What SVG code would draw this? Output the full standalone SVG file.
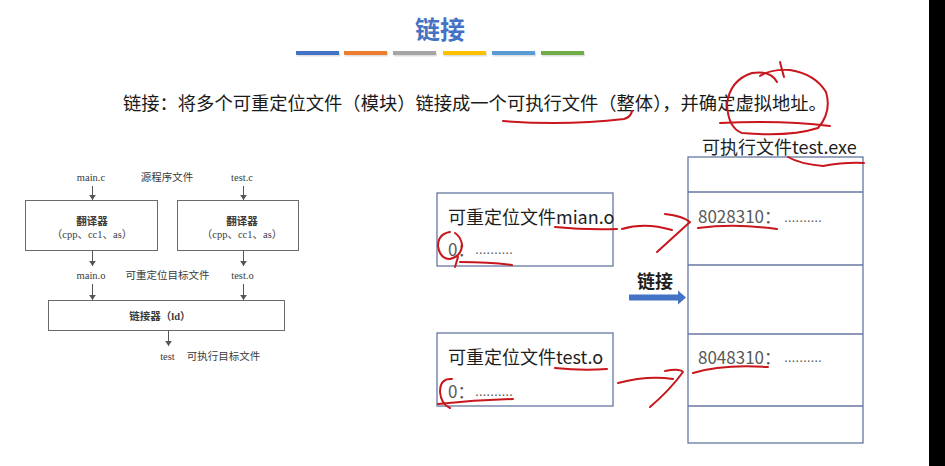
<svg xmlns="http://www.w3.org/2000/svg" width="945" height="466" viewBox="0 0 945 466">
<defs>
<style>
.title{font-family:"Noto Sans CJK SC",sans-serif;font-size:25px;font-weight:bold;fill:#4472C4}
.lead{font-family:"Noto Sans CJK SC",sans-serif;font-size:18.3px;fill:#1a1a1a}
.fig{font-family:"Liberation Serif","Noto Sans CJK SC",serif;font-size:10.5px;fill:#3a3a3a}
.figb{font-weight:bold}
.box{fill:#fff;stroke:#6a6a6a;stroke-width:1}
.wire{stroke:#555;stroke-width:1;fill:none;marker-end:url(#tip)}
.obj{fill:#fff;stroke:#6677a0;stroke-width:1.3}
.lbl{font-family:"Noto Sans CJK SC",sans-serif;font-size:18px;fill:#1e1e1e}
.addr{font-family:"Noto Sans CJK SC",sans-serif;font-size:17px;fill:#595959}
.dots{font-family:"Liberation Sans",sans-serif;font-size:14px;fill:#595959}
.ink{fill:none;stroke:#c8161d;stroke-width:2;stroke-linecap:round;stroke-linejoin:round}
</style>
<marker id="tip" viewBox="0 0 6 8" refX="6" refY="4" markerWidth="5" markerHeight="7" markerUnits="userSpaceOnUse" orient="auto"><path d="M0,0 L6,4 L0,8 z" fill="#555"/></marker>
</defs>

<rect width="945" height="466" fill="#fff"/>
<rect x="929" y="0" width="16" height="466" fill="#000"/>

<!-- heading and colour strip -->
<g id="heading">
<text class="title" x="440" y="38.5" text-anchor="middle">链接</text>
<g fill="#000" opacity="0.12">
<rect x="297" y="52.5" width="43" height="4"/><rect x="345" y="52.5" width="43" height="4"/><rect x="394" y="52.5" width="43" height="4"/>
<rect x="444" y="52.5" width="43" height="4"/><rect x="493" y="52.5" width="43" height="4"/><rect x="542" y="52.5" width="43" height="4"/>
</g>
<rect x="296" y="51" width="43" height="4" fill="#4472C4"/>
<rect x="344" y="51" width="43" height="4" fill="#ED7D31"/>
<rect x="393" y="51" width="43" height="4" fill="#A5A5A5"/>
<rect x="443" y="51" width="43" height="4" fill="#FFC000"/>
<rect x="492" y="51" width="43" height="4" fill="#5B9BD5"/>
<rect x="541" y="51" width="43" height="4" fill="#70AD47"/>
</g>

<g id="definition">
<text class="lead" x="123" y="110">链接：将多个可重定位文件（模块）链接成一个可执行文件（整体），并确定虚拟地址。</text>
</g>

<!-- toolchain figure -->
<g id="src-main"><text class="fig" x="91" y="180.5" text-anchor="middle">main.c</text></g>
<g id="src-label"><text class="fig" x="167" y="181" text-anchor="middle">源程序文件</text></g>
<g id="src-test"><text class="fig" x="242" y="180.5" text-anchor="middle">test.c</text></g>

<g id="translator-1">
<rect class="box" x="25.5" y="200.5" width="132" height="50"/>
<text class="fig figb" x="92" y="225" text-anchor="middle">翻译器</text>
<text class="fig" x="92" y="238" text-anchor="middle">（cpp、cc1、as）</text>
</g>
<g id="translator-2">
<rect class="box" x="177.5" y="200.5" width="121" height="50"/>
<text class="fig figb" x="242" y="225" text-anchor="middle">翻译器</text>
<text class="fig" x="242" y="238" text-anchor="middle">（cpp、cc1、as）</text>
</g>

<g id="obj-main"><text class="fig" x="91" y="279" text-anchor="middle">main.o</text></g>
<g id="obj-label"><text class="fig" x="167.5" y="279" text-anchor="middle">可重定位目标文件</text></g>
<g id="obj-test"><text class="fig" x="242.5" y="279" text-anchor="middle">test.o</text></g>

<g id="linker">
<rect class="box" x="48.5" y="300.5" width="236" height="30"/>
<text class="fig figb" x="160" y="320" text-anchor="middle">链接器（ld）</text>
</g>

<g id="exe-out">
<text class="fig" x="167.5" y="359.5" text-anchor="middle">test</text>
<text class="fig" x="223.5" y="360" text-anchor="middle">可执行目标文件</text>
</g>

<g id="connectors">
<line class="wire" x1="92.5" y1="186" x2="92.5" y2="200"/>
<line class="wire" x1="243.5" y1="186" x2="243.5" y2="200"/>
<line class="wire" x1="92.5" y1="251" x2="92.5" y2="266"/>
<line class="wire" x1="243.5" y1="251" x2="243.5" y2="266"/>
<line class="wire" x1="92.5" y1="284" x2="92.5" y2="300"/>
<line class="wire" x1="243.5" y1="284" x2="243.5" y2="300"/>
<line class="wire" x1="168.5" y1="331" x2="168.5" y2="346"/>
<path d="M629,294.5 H678 V290.5 L686,297.5 L678,304.5 V300.5 H629 Z" fill="#4472C4"/>
</g>

<!-- relocatable objects -->
<g id="mian-o">
<rect class="obj" x="437" y="193" width="176" height="73"/>
<text class="lbl" x="448" y="224">可重定位文件mian.o</text>
<text class="addr" x="448" y="256">0：</text>
<text class="dots" x="475" y="254" textLength="38">..........</text>
</g>
<g id="test-o">
<rect class="obj" x="437" y="333" width="176" height="73"/>
<text class="lbl" x="448" y="364">可重定位文件test.o</text>
<text class="addr" x="448" y="398">0：</text>
<text class="dots" x="475" y="396" textLength="38">..........</text>
</g>

<g id="link-label">
<text class="lbl" x="655" y="287.5" text-anchor="middle" font-weight="bold" font-size="17">链接</text>
</g>

<!-- executable image -->
<g id="test-exe">
<text class="lbl" x="702" y="154">可执行文件test.exe</text>
<rect class="obj" x="688" y="157" width="175" height="286"/>
<line class="obj" x1="688" y1="192" x2="863" y2="192"/>
<line class="obj" x1="688" y1="265" x2="863" y2="265"/>
<line class="obj" x1="688" y1="334" x2="863" y2="334"/>
<line class="obj" x1="688" y1="406" x2="863" y2="406"/>
<text class="addr" x="698" y="223">8028310：</text>
<text class="dots" x="784" y="222" textLength="38">..........</text>
<text class="addr" x="698" y="364">8048310：</text>
<text class="dots" x="784" y="362" textLength="38">..........</text>
</g>

<!-- hand-drawn pen marks -->
<g id="pen">
<path class="ink" d="M503,121 Q565,126 624,119 Q631,117 632,111"/>
<path class="ink" d="M777,82 Q770,70 752,73 Q730,80 727,104 Q728,128 742,133 Q790,137 818,128 Q832,112 826,92 Q815,74 790,70 Q770,69 760,76"/>
<path class="ink" d="M720,123 Q780,120 830,126"/>
<path class="ink" d="M780,62 Q782,70 784,77"/>
<path class="ink" d="M788,157 Q800,164 823,166 Q845,162 864,163"/>
<path class="ink" d="M698,228 Q735,223 777,229"/>
<path class="ink" d="M555,227 Q585,230 617,229"/>
<path class="ink" d="M622,229 Q645,222 672,230"/>
<path class="ink" d="M665,214 Q683,216 690,222 L657,252"/>
<path class="ink" d="M450,232 Q438,234 438,246 Q440,259 450,259 Q462,256 462,244 Q460,236 455,233 M458,257 L455,267"/>
<path class="ink" d="M460,262 Q490,262 512,265"/>
<path class="ink" d="M555,368 Q582,371 607,369"/>
<path class="ink" d="M618,383 Q648,375 673,379"/>
<path class="ink" d="M665,371 Q680,368 683,372 Q670,390 650,407"/>
<path class="ink" d="M693,373 Q722,364 768,367"/>
<path class="ink" d="M452,379 Q440,378 440,392 Q441,404 450,408"/>
<path class="ink" d="M438,404 Q475,400 513,399"/>
</g>
</svg>
